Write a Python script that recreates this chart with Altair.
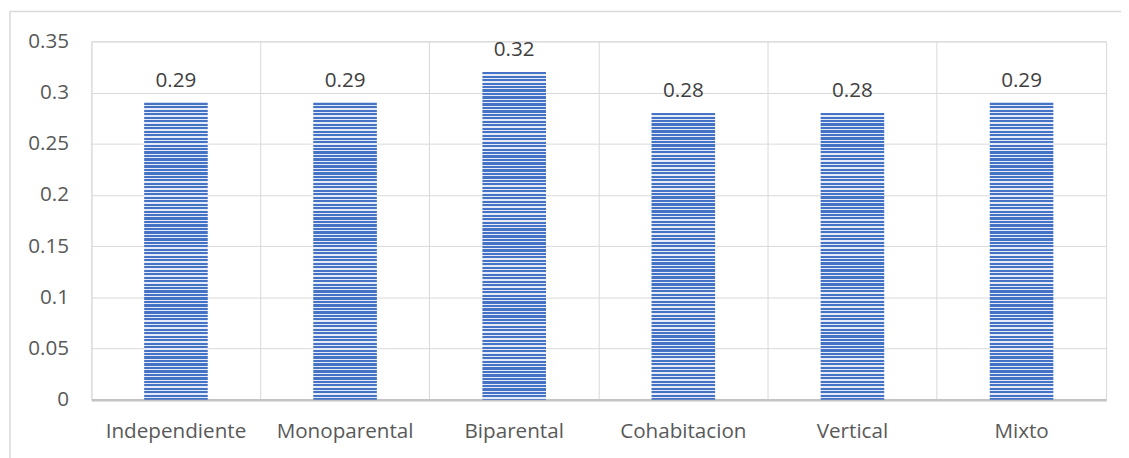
import altair as alt
import pandas as pd

categories = ["Independiente", "Monoparental", "Biparental", "Cohabitacion", "Vertical", "Mixto"]
values = [0.29, 0.29, 0.32, 0.28, 0.28, 0.29]
y_ticks = [0, 0.05, 0.1, 0.15, 0.2, 0.25, 0.3, 0.35]

df = pd.DataFrame({"cat": categories, "val": values})

BLUE = "#4472c4"
LIGHT = "#e4eaf6"
W, H = 1022, 361
YMAX = 0.35
PERIOD = 3.5   # stripe period in px
BLUE_PX = 2.2


def stripe_fill(v):
    h = v / YMAX * H
    stops = []
    k = 0
    while k * PERIOD < h:
        s = k * PERIOD / h
        m = min((k * PERIOD + BLUE_PX) / h, 1.0)
        e = min((k + 1) * PERIOD / h, 1.0)
        stops += [
            {"offset": s, "color": BLUE},
            {"offset": m, "color": BLUE},
        ]
        if m < 1.0:
            stops += [
                {"offset": m, "color": LIGHT},
                {"offset": e, "color": LIGHT},
            ]
        k += 1
    return {"gradient": "linear", "x1": 0, "y1": 0, "x2": 0, "y2": 1, "stops": stops}


FONT = "Open Sans"
FS = 20.8

x = alt.X(
    "cat:N",
    sort=categories,
    title=None,
    scale=alt.Scale(domain=categories, paddingInner=0, paddingOuter=0),
    axis=alt.Axis(
        labelAngle=0,
        labelFont=FONT,
        labelFontSize=FS,
        labelColor="#595959",
        labelBaseline="alphabetic",
        labelPadding=38,
        ticks=False,
        tickSize=0,
        grid=True,
        gridColor="#d9d9d9",
        bandPosition=0,
        domainColor="#c4c4c4",
        domainWidth=2.5,
    ),
)
y = alt.Y(
    "val:Q",
    title=None,
    scale=alt.Scale(domain=[0, YMAX], nice=False),
    axis=alt.Axis(
        values=y_ticks,
        format=".2~f",
        labelFont=FONT,
        labelFontSize=FS,
        labelColor="#595959",
        labelPadding=23,
        ticks=False,
        tickSize=0,
        domain=False,
        grid=True,
        gridColor="#d9d9d9",
    ),
)

bar_layers = []
for c, v in zip(categories, values):
    bar_layers.append(
        alt.Chart(df)
        .transform_filter(alt.datum.cat == c)
        .mark_bar(fill=stripe_fill(v), width=alt.RelativeBandSize(0.376))
        .encode(x=x, y=y)
    )

labels = alt.Chart(df).mark_text(
    font=FONT, fontSize=FS, color="#404040", baseline="alphabetic", dy=-16
).encode(x=alt.X("cat:N", sort=categories), y="val:Q", text=alt.Text("val:Q", format=".2f"))

frame = alt.Chart(pd.DataFrame({"a": [0]})).mark_rect(
    fill=None, stroke="#d9d9d9", strokeWidth=1.5
).encode(
    x=alt.value(-82), x2=alt.value(W + 60), y=alt.value(-30), y2=alt.value(H + 120)
)

chart = alt.layer(frame, *bar_layers, labels).properties(
    width=W,
    height=H,
    padding={"left": 84, "top": 32, "right": 15, "bottom": 57},
    autosize=alt.AutoSizeParams(type="none"),
    background="white",
).configure_view(stroke="#d9d9d9", strokeWidth=1)

chart.save("out.html", embed_options={"renderer": "svg", "actions": False})
